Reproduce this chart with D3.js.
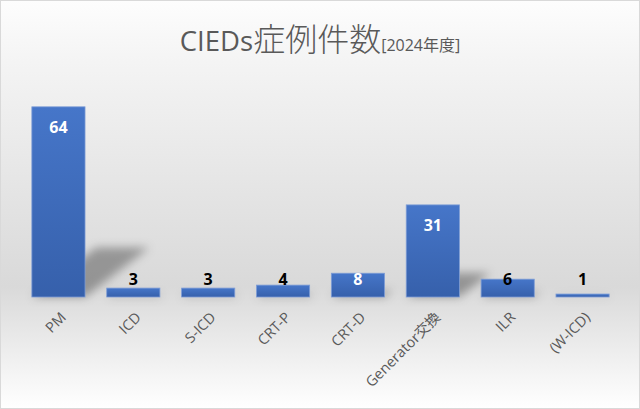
<!DOCTYPE html>
<html>
<head>
<meta charset="utf-8">
<script src="https://cdn.jsdelivr.net/npm/d3@7"></script>
<style>
  html, body { margin: 0; padding: 0; background: #fff; }
  #chart { width: 640px; height: 409px; }
</style>
</head>
<body>
<div id="chart"></div>
<script>
// Chart data
const categories = ['PM', 'ICD', 'S-ICD', 'CRT-P', 'CRT-D', 'Generator交換', 'ILR', '(W-ICD)'];
const counts = [64, 3, 3, 4, 8, 31, 6, 1];
const yDomain = [0, 70];

const width = 640;
const height = 409;
const baseY = 297;

const svg = d3.select('#chart')
    .append('svg')
    .attr('width', width)
    .attr('height', height);

const defs = svg.append('defs');

// Background: light at top, grey near the axis, white at bottom
const bg = defs.append('linearGradient')
    .attr('id', 'bg-grad')
    .attr('x1', 0).attr('y1', 0).attr('x2', 0).attr('y2', 1);
bg.append('stop').attr('offset', '0%').attr('stop-color', '#fdfdfd');
bg.append('stop').attr('offset', '15%').attr('stop-color', '#f4f4f4');
bg.append('stop').attr('offset', '70%').attr('stop-color', '#d9d9d9');
bg.append('stop').attr('offset', '100%').attr('stop-color', '#ffffff');

// Bar fill
const barGrad = defs.append('linearGradient')
    .attr('id', 'bar-grad')
    .attr('x1', 0).attr('y1', 0).attr('x2', 0).attr('y2', 1);
barGrad.append('stop').attr('offset', '0%').attr('stop-color', '#4676c9');
barGrad.append('stop').attr('offset', '100%').attr('stop-color', '#3660ab');

// Blur for the perspective shadows
defs.append('filter')
    .attr('id', 'shadow-blur')
    .attr('x', '-50%').attr('y', '-50%')
    .attr('width', '200%').attr('height', '200%')
    .append('feGaussianBlur')
    .attr('stdDeviation', 5);

svg.append('rect')
    .attr('x', 0.5).attr('y', 0.5)
    .attr('width', width - 1).attr('height', height - 1)
    .attr('fill', 'url(#bg-grad)')
    .attr('stroke', '#d9d9d9');

// Scales
const x = d3.scaleBand()
    .domain(categories)
    .range([21, 620])
    .paddingInner(0.29)
    .paddingOuter(0.145);

const y = d3.scaleLinear()
    .domain(yDomain)
    .range([baseY, 89]);

const rows = categories.map((c, i) => ({ cat: c, value: counts[i] }));

// Perspective shadows (flattened, skewed copy of each bar)
const shadowLayer = svg.append('g').attr('filter', 'url(#shadow-blur)');
shadowLayer.selectAll('path')
    .data(rows)
    .enter()
    .append('path')
    .attr('d', d => {
        const x0 = x(d.cat);
        const x1 = x0 + x.bandwidth();
        const h = (y(0) - y(d.value)) * 0.26;
        const s = h * 1.3;
        return `M${x0},${y(0)}L${x1},${y(0)}L${x1 + s},${y(0) - h}L${x0 + s},${y(0) - h}Z`;
    })
    .attr('fill', 'rgba(0,0,0,0.32)');

// Bars
svg.append('g')
    .selectAll('rect')
    .data(rows)
    .enter()
    .append('rect')
    .attr('x', d => x(d.cat))
    .attr('y', d => y(d.value))
    .attr('width', x.bandwidth())
    .attr('height', d => y(0) - y(d.value))
    .attr('fill', 'url(#bar-grad)')
    .attr('stroke', '#7d9cd6')
    .attr('stroke-width', 0.8);

// Value labels: inside end, pushed up when the bar is too short
const labelY = d => Math.min(y(d.value) + 20, y(0) - 18);
svg.append('g')
    .selectAll('text')
    .data(rows)
    .enter()
    .append('text')
    .attr('x', d => x(d.cat) + x.bandwidth() / 2)
    .attr('y', labelY)
    .attr('dy', '0.36em')
    .attr('text-anchor', 'middle')
    .style('font-family', '"Open Sans", "Noto Sans", sans-serif')
    .style('font-size', '16px')
    .style('font-weight', 'bold')
    .style('fill', d => (y(d.value) < labelY(d) - 4 ? '#ffffff' : '#000000'))
    .text(d => d.value);

// Category labels, rotated
const xAxis = svg.append('g')
    .attr('transform', `translate(0,${baseY})`)
    .call(d3.axisBottom(x).tickSize(0).tickPadding(0));
xAxis.select('.domain').remove();
xAxis.selectAll('text')
    .attr('x', -9)
    .attr('y', 16)
    .attr('dy', '0.35em')
    .attr('transform', 'rotate(-45)')
    .attr('text-anchor', 'end')
    .style('font-family', '"Open Sans", "Noto Sans CJK JP", sans-serif')
    .style('font-size', '14.5px')
    .style('fill', '#595959');

// Title
const title = svg.append('text')
    .attr('x', 320)
    .attr('y', 51)
    .attr('text-anchor', 'middle')
    .style('fill', '#595959')
    .style('font-family', '"Open Sans", "Noto Sans CJK JP", sans-serif');
title.append('tspan').style('font-size', '27.5px').text('CIEDs');
title.append('tspan')
    .style('font-size', '32px')
    .style('font-family', '"Noto Sans CJK JP", sans-serif')
    .style('font-weight', 300)
    .text('症例件数');
title.append('tspan').style('font-size', '16px').text('[2024年度]');
</script>
</body>
</html>
